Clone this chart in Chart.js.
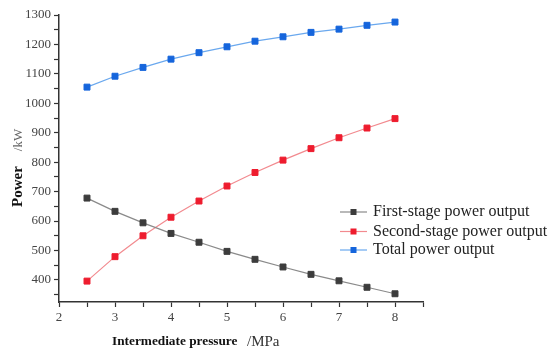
<!DOCTYPE html>
<html>
<head>
<meta charset="utf-8">
<script src="https://cdn.jsdelivr.net/npm/chart.js@4"></script>
<style>
  html, body { margin: 0; padding: 0; background: #fff; }
  #wrap { width: 550px; height: 359px; }
</style>
</head>
<body>
<div id="wrap"><canvas id="myChart"></canvas></div>
<script>
'use strict';

// * Intermediate pressure (MPa) on the x axis.
const pressure = [2.5, 3, 3.5, 4, 4.5, 5, 5.5, 6, 6.5, 7, 7.5, 8];
// * Power outputs in kW.
const firstStage = [678, 633, 594, 558, 528, 497, 470, 444, 419, 397, 375, 353];
const secondStage = [396, 479, 550, 613, 668, 719, 765, 807, 846, 883, 916, 948];
const totalPower = [1055, 1092, 1122, 1150, 1172, 1192, 1211, 1226, 1241, 1252, 1265, 1276];
const seriesNames = ['First-stage power output', 'Second-stage power output', 'Total power output'];

const serif = "'Liberation Serif', 'Times New Roman', serif";

const toPoints = (ys) => ys.map((y, i) => ({ x: pressure[i], y }));

const makeSet = (label, values, line, marker) => ({
  label,
  data: toPoints(values),
  borderColor: line,
  backgroundColor: marker,
  pointBackgroundColor: marker,
  pointBorderColor: marker,
  pointStyle: 'rect',
  pointRadius: 4.2,
  pointBorderWidth: 1,
  borderWidth: 1.2,
  tension: 0,
});

// * Draws the legend and the two axis titles (mixed bold / plain text).
const decorations = {
  id: 'decorations',
  afterDraw(chart) {
    const c = chart.ctx;
    c.save();
    c.textBaseline = 'middle';

    // legend
    const rows = [212, 231.5, 250];
    chart.data.datasets.forEach((ds, i) => {
      const y = rows[i];
      c.strokeStyle = ds.borderColor;
      c.lineWidth = 1.2;
      c.beginPath();
      c.moveTo(340, y);
      c.lineTo(367, y);
      c.stroke();
      c.fillStyle = ds.pointBackgroundColor;
      c.fillRect(350.5, y - 3, 6, 6);
      c.fillStyle = '#222';
      c.font = `16px ${serif}`;
      c.textAlign = 'left';
      c.fillText(ds.label, 373, y);
    });

    // x title
    c.font = `bold 13.3px ${serif}`;
    c.fillStyle = '#111';
    c.fillText('Intermediate pressure', 112, 342);
    c.font = `15px ${serif}`;
    c.fillStyle = '#333';
    c.fillText('/MPa', 247, 342);

    // y title
    c.textBaseline = 'alphabetic';
    c.translate(22, 207);
    c.rotate(-Math.PI / 2);
    c.font = `bold 15px ${serif}`;
    c.fillStyle = '#111';
    c.fillText('Power', 0, 0);
    const w = c.measureText('Power').width;
    c.font = `13px ${serif}`;
    c.fillStyle = '#666';
    c.fillText('/kW', w + 15, 0);
    c.restore();
  },
};

const canvas = document.getElementById('myChart');
const ctx = canvas.getContext('2d');

new Chart(ctx, {
  type: 'line',
  data: {
    datasets: [
      makeSet(seriesNames[0], firstStage, '#8a8a8a', '#3c3c3c'),
      makeSet(seriesNames[1], secondStage, '#f28a8f', '#ee1c2e'),
      makeSet(seriesNames[2], totalPower, '#6aa8ee', '#1565dc'),
    ],
  },
  options: {
    responsive: true,
    maintainAspectRatio: false,
    animation: false,
    layout: { padding: { left: 0, top: 15, right: 127, bottom: 0 } },
    plugins: {
      legend: { display: false },
      tooltip: { enabled: false },
    },
    scales: {
      x: {
        type: 'linear',
        min: 2,
        max: 8.5,
        afterFit: (s) => { s.height = 57; },
        afterBuildTicks: (s) => {
          s.ticks = [];
          for (let v = 2; v <= 8.5; v += 0.5) s.ticks.push({ value: v });
        },
        border: { display: true, color: '#333', width: 1.5 },
        grid: {
          drawOnChartArea: false,
          drawTicks: true,
          tickLength: 5,
          tickColor: '#333',
          tickWidth: 1.2,
        },
        ticks: {
          color: '#444',
          font: { family: serif, size: 13 },
          padding: 3,
          maxRotation: 0,
          autoSkip: false,
          callback: (v) => (Number.isInteger(v) && v <= 8 ? v : ''),
        },
      },
      y: {
        min: 325,
        max: 1300,
        afterFit: (s) => { s.width = 59; },
        afterBuildTicks: (s) => {
          s.ticks = [];
          for (let v = 350; v <= 1300; v += 50) s.ticks.push({ value: v });
        },
        border: { display: true, color: '#333', width: 1.5 },
        grid: {
          drawOnChartArea: false,
          drawTicks: true,
          tickLength: 5,
          tickColor: '#333',
          tickWidth: 1.2,
        },
        ticks: {
          color: '#444',
          font: { family: serif, size: 13 },
          padding: 3,
          autoSkip: false,
          callback: (v) => (v % 100 === 0 ? v : ''),
        },
      },
    },
  },
  plugins: [decorations],
});
</script>
</body>
</html>
